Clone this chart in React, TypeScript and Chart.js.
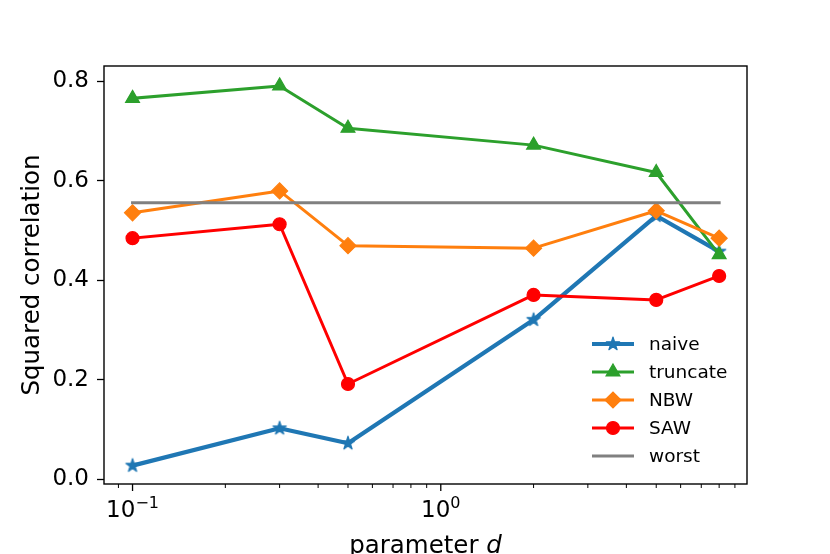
import { useEffect, useRef } from "react"
import { Chart, registerables } from "chart.js"
import { drawPoint } from "chart.js/helpers"

Chart.register(...registerables)

// values
const dValues = [0.1, 0.3, 0.5, 2, 5, 8]
const naive = [0.028, 0.103, 0.073, 0.321, 0.53, 0.458]
const truncate = [0.766, 0.791, 0.706, 0.672, 0.617, 0.452]
const nbw = [0.536, 0.58, 0.47, 0.465, 0.54, 0.485]
const saw = [0.485, 0.513, 0.192, 0.371, 0.361, 0.409]
const worstD = [0.1, 8]
const worst = [0.556, 0.556]

const yTicks = [0.0, 0.2, 0.4, 0.6, 0.8]
const xTicks = [0.09, 0.1, 0.2, 0.3, 0.4, 0.5, 0.6, 0.7, 0.8, 0.9, 1, 2, 3, 4, 5, 6, 7, 8, 9]
const xMajor = [0.1, 1]
const xMajorExp = ["−1", "0"]

const FONT = "'DejaVu Sans', sans-serif"

function makeStar(color: string) {
  const c = document.createElement("canvas")
  c.width = 18
  c.height = 18
  const ctx = c.getContext("2d")!
  const outer = 7
  const inner = outer * 0.382
  ctx.beginPath()
  for (let i = 0; i < 10; i++) {
    const r = i % 2 === 0 ? outer : inner
    const a = -Math.PI / 2 + (i * Math.PI) / 5
    const px = 9 + r * Math.cos(a)
    const py = 9 + r * Math.sin(a)
    if (i === 0) ctx.moveTo(px, py)
    else ctx.lineTo(px, py)
  }
  ctx.closePath()
  ctx.fillStyle = color
  ctx.strokeStyle = color
  ctx.lineWidth = 1.2
  ctx.lineJoin = "round"
  ctx.fill()
  ctx.stroke()
  return c
}

const pts = (xs: number[], ys: number[]) => xs.map((x, i) => ({ x, y: ys[i] }))

const decorPlugin = {
  id: "decor",
  afterDatasetsDraw(chart: any) {
    const { ctx, chartArea: a } = chart
    ctx.save()
    ctx.strokeStyle = "#000"
    ctx.lineWidth = 1.4
    ctx.strokeRect(a.left, a.top, a.right - a.left, a.bottom - a.top)

    // x tick marks, major longer than minor
    const xs = chart.scales.x
    for (const v of xTicks) {
      const px = xs.getPixelForValue(v)
      const major = xMajor.includes(v)
      ctx.lineWidth = major ? 1.3 : 1.0
      ctx.beginPath()
      ctx.moveTo(px, a.bottom)
      ctx.lineTo(px, a.bottom + (major ? 7 : 4))
      ctx.stroke()
    }

    // x tick labels as 10 with a raised exponent
    ctx.fillStyle = "#000"
    ctx.textBaseline = "alphabetic"
    ctx.textAlign = "left"
    xMajor.forEach((v, k) => {
      const px = xs.getPixelForValue(v)
      ctx.font = `23px ${FONT}`
      const wBase = ctx.measureText("10").width
      ctx.font = `16px ${FONT}`
      const wExp = ctx.measureText(xMajorExp[k]).width
      const x0 = px - (wBase + wExp) / 2
      ctx.font = `23px ${FONT}`
      ctx.fillText("10", x0, a.bottom + 33)
      ctx.font = `16px ${FONT}`
      ctx.fillText(xMajorExp[k], x0 + wBase, a.bottom + 24)
    })
    ctx.restore()
  },
  afterDraw(chart: any) {
    const { ctx, chartArea: a } = chart
    ctx.save()
    ctx.fillStyle = "#000"

    // y title
    ctx.font = `24.5px ${FONT}`
    ctx.textAlign = "center"
    ctx.textBaseline = "alphabetic"
    ctx.translate(39, (a.top + a.bottom) / 2)
    ctx.rotate(-Math.PI / 2)
    ctx.fillText("Squared correlation", 0, 0)
    ctx.restore()

    // x title with italic d
    ctx.save()
    ctx.fillStyle = "#000"
    ctx.textBaseline = "alphabetic"
    ctx.textAlign = "left"
    const part1 = "parameter "
    ctx.font = `24.5px ${FONT}`
    const w1 = ctx.measureText(part1).width
    ctx.font = `italic 24.5px ${FONT}`
    const w2 = ctx.measureText("d").width
    const cx = (a.left + a.right) / 2
    const x0 = cx - (w1 + w2) / 2
    const by = chart.height - 1
    ctx.font = `24.5px ${FONT}`
    ctx.fillText(part1, x0, by)
    ctx.font = `italic 24.5px ${FONT}`
    ctx.fillText("d", x0 + w1, by)
    ctx.restore()

    // legend inside the axes, lower right
    ctx.save()
    const datasets = chart.data.datasets
    const n = datasets.length
    const lx = a.right - 155
    datasets.forEach((ds: any, i: number) => {
      const y = a.bottom - 28 - (n - 1 - i) * 28
      ctx.strokeStyle = ds.borderColor
      ctx.lineWidth = ds.borderWidth
      ctx.lineCap = "butt"
      ctx.beginPath()
      ctx.moveTo(lx, y)
      ctx.lineTo(lx + 42, y)
      ctx.stroke()
      if (ds.pointRadius > 0) {
        ctx.fillStyle = ds.pointBackgroundColor
        ctx.strokeStyle = ds.pointBorderColor
        ctx.lineWidth = ds.pointBorderWidth
        drawPoint(
          ctx,
          { pointStyle: ds.pointStyle, radius: ds.pointRadius, rotation: 0, borderWidth: ds.pointBorderWidth },
          lx + 21,
          y
        )
      }
      ctx.fillStyle = "#000"
      ctx.font = `18.5px ${FONT}`
      ctx.textAlign = "left"
      ctx.textBaseline = "middle"
      ctx.fillText(ds.label, lx + 57, y + 1)
    })
    ctx.restore()
  },
}

export default function App() {
  const chartRef = useRef<HTMLCanvasElement>(null)
  const chartInstance = useRef<Chart | null>(null)

  useEffect(() => {
    if (!chartRef.current) return
    if (chartInstance.current) chartInstance.current.destroy()

    const star = makeStar("#1f77b4")
    const line = (label: string, color: string, data: any, extra: any) => ({
      label,
      data,
      borderColor: color,
      backgroundColor: color,
      pointBackgroundColor: color,
      pointBorderColor: color,
      pointBorderWidth: 1.2,
      borderWidth: 3,
      borderJoinStyle: "round",
      borderCapStyle: "square",
      tension: 0,
      fill: false,
      ...extra,
    })

    chartInstance.current = new Chart(chartRef.current, {
      type: "line",
      data: {
        datasets: [
          line("naive", "#1f77b4", pts(dValues, naive), { borderWidth: 4.2, pointStyle: star, pointRadius: 7, order: 5 }),
          line("truncate", "#2ca02c", pts(dValues, truncate), { pointStyle: "triangle", pointRadius: 8, order: 4 }),
          line("NBW", "#ff7f0e", pts(dValues, nbw), { pointStyle: "rectRot", pointRadius: 8, order: 3 }),
          line("SAW", "#ff0000", pts(dValues, saw), { pointStyle: "circle", pointRadius: 6.5, order: 2 }),
          line("worst", "#808080", pts(worstD, worst), { pointRadius: 0, order: 1 }),
        ] as any,
      },
      options: {
        animation: false,
        responsive: true,
        maintainAspectRatio: false,
        events: [],
        layout: { padding: { top: 66, right: 83, left: 0, bottom: 0 } },
        plugins: {
          legend: { display: false },
          tooltip: { enabled: false },
        },
        scales: {
          x: {
            type: "logarithmic",
            min: 0.0808,
            max: 9.85,
            afterBuildTicks: (s: any) => {
              s.ticks = xTicks.map((v) => ({ value: v, major: xMajor.includes(v) }))
            },
            afterFit: (s: any) => {
              s.height = 70
            },
            ticks: { display: false, autoSkip: false, maxRotation: 0 },
            grid: { display: false },
            border: { display: false },
          },
          y: {
            type: "linear",
            min: -0.009,
            max: 0.831,
            afterBuildTicks: (s: any) => {
              s.ticks = yTicks.map((v) => ({ value: v }))
            },
            afterFit: (s: any) => {
              s.width = 104
            },
            ticks: {
              autoSkip: false,
              padding: 8,
              color: "#000",
              font: { family: FONT, size: 23 },
              callback: (v: any) => Number(v).toFixed(1),
            },
            grid: { display: true, drawOnChartArea: false, drawTicks: true, tickLength: 7, tickColor: "#000", tickWidth: 1.3 },
            border: { display: false },
          },
        },
      },
      plugins: [decorPlugin],
    })

    return () => {
      if (chartInstance.current) {
        chartInstance.current.destroy()
        chartInstance.current = null
      }
    }
  }, [])

  return (
    <div style={{ position: "absolute", left: 0, top: 0, width: 830, height: 554, background: "#fff" }}>
      <canvas ref={chartRef}></canvas>
    </div>
  )
}
